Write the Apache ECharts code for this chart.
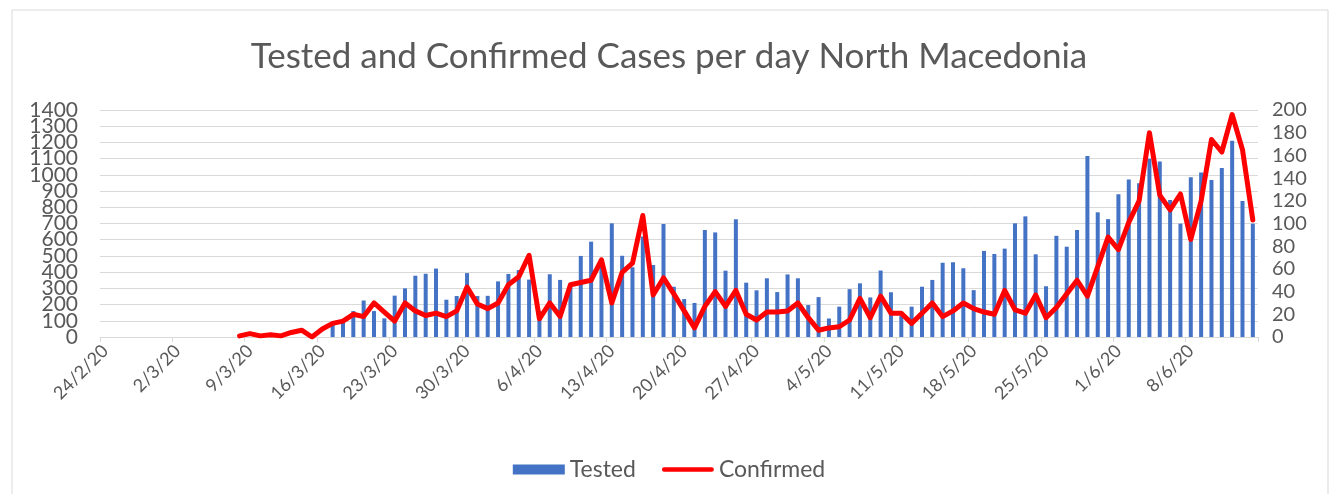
<!DOCTYPE html>
<html>
<head>
<meta charset="utf-8">
<script src="https://cdn.jsdelivr.net/npm/echarts@6/dist/echarts.min.js"></script>
<style>
html,body{margin:0;padding:0;background:#fff;}
#chart{width:1338px;height:494px;}
</style>
</head>
<body>
<div id="chart"></div>
<script>
var categories = [
'24/2/20','25/2/20','26/2/20','27/2/20','28/2/20','29/2/20',
'1/3/20','2/3/20','3/3/20','4/3/20','5/3/20','6/3/20','7/3/20','8/3/20','9/3/20','10/3/20',
'11/3/20','12/3/20','13/3/20','14/3/20','15/3/20','16/3/20','17/3/20','18/3/20','19/3/20','20/3/20',
'21/3/20','22/3/20','23/3/20','24/3/20','25/3/20','26/3/20','27/3/20','28/3/20','29/3/20','30/3/20','31/3/20',
'1/4/20','2/4/20','3/4/20','4/4/20','5/4/20','6/4/20','7/4/20','8/4/20','9/4/20','10/4/20',
'11/4/20','12/4/20','13/4/20','14/4/20','15/4/20','16/4/20','17/4/20','18/4/20','19/4/20','20/4/20',
'21/4/20','22/4/20','23/4/20','24/4/20','25/4/20','26/4/20','27/4/20','28/4/20','29/4/20','30/4/20',
'1/5/20','2/5/20','3/5/20','4/5/20','5/5/20','6/5/20','7/5/20','8/5/20','9/5/20','10/5/20',
'11/5/20','12/5/20','13/5/20','14/5/20','15/5/20','16/5/20','17/5/20','18/5/20','19/5/20','20/5/20',
'21/5/20','22/5/20','23/5/20','24/5/20','25/5/20','26/5/20','27/5/20','28/5/20','29/5/20','30/5/20','31/5/20',
'1/6/20','2/6/20','3/6/20','4/6/20','5/6/20','6/6/20','7/6/20','8/6/20','9/6/20','10/6/20',
'11/6/20','12/6/20','13/6/20','14/6/20'
];

var tested = [
null,null,null,null,null,null,null,null,null,null,
null,null,null,null,null,null,null,null,null,null,
null,null,
90,100,160,225,160,115,255,300,378,390,422,
230,253,394,253,254,343,389,413,354,160,
387,352,320,500,588,480,701,501,430,620,
444,697,310,234,210,660,645,409,726,335,
288,362,277,386,362,197,246,114,187,295,
331,244,410,276,130,187,310,352,458,461,
424,289,531,512,545,701,744,510,313,624,
557,660,1117,769,727,881,971,948,1100,1082,
845,699,986,1015,969,1042,1210,839,699
];

var confirmed = [
null,null,null,null,null,null,null,null,null,null,
null,null,null,
1,3,1,2,1,4,6,0,7,12,
14,20,18,30,22,14,30,23,19,21,
18,23,44,29,25,30,46,53,72,16,
30,18,46,48,50,68,30,57,65,107,
37,52,38,23,8,27,40,27,41,20,
15,22,22,23,30,17,6,8,9,15,
34,17,36,21,21,12,21,30,18,23,
30,25,22,20,41,24,21,37,17,26,
38,50,36,62,88,77,101,120,180,125,
112,126,86,120,174,163,196,165,103
];

var leftTicks = {min: 0, max: 1400, interval: 100};
var rightTicks = {min: 0, max: 200, interval: 20};
// left-axis labels drawn on a second overlaid axis (avoids auto-hiding of crowded labels)
var leftOverlayValues = [100, 1300];

var FONT = 'Lato';
var GREY = '#595959';
var LINE_ICON = 'path://M0,0 L0.01,0 L0.01,0.01 Z M1,2.6 L51,2.6 A2.4,2.4 0 0 1 51,7.4 L1,7.4 A2.4,2.4 0 0 1 1,2.6 Z M0,10 L0.01,10 L0.01,9.99 Z';

var leftLabelStyle = {fontFamily: FONT, fontSize: 21, color: GREY, margin: 22,
  showMinLabel: true, showMaxLabel: true, hideOverlap: false};

var chart = echarts.init(document.getElementById('chart'));
chart.setOption({
  backgroundColor: '#ffffff',
  animation: false,
  title: {
    text: 'Tested and Confirmed Cases per day North Macedonia',
    left: 'center',
    top: 34,
    textStyle: {fontFamily: FONT, fontSize: 35, fontWeight: 'normal', color: GREY}
  },
  graphic: [{
    type: 'rect',
    shape: {x: 12, y: 10, width: 1316, height: 500},
    style: {fill: 'none', stroke: '#d9d9d9', lineWidth: 1},
    silent: true, z: -1
  }],
  legend: {
    bottom: 8,
    left: 'center',
    itemGap: 26,
    itemWidth: 52,
    itemHeight: 10,
    textStyle: {fontFamily: FONT, fontSize: 23, color: GREY},
    data: [
      {name: 'Tested', icon: 'rect'},
      {name: 'Confirmed', icon: LINE_ICON}
    ]
  },
  grid: {left: 100, right: 80, top: 110, bottom: 157, containLabel: false},
  xAxis: {
    type: 'category',
    data: categories,
    boundaryGap: true,
    axisLine: {lineStyle: {color: '#d9d9d9', width: 1}},
    axisTick: {show: true, interval: 6, length: 5, lineStyle: {color: '#d9d9d9'}},
    axisLabel: {interval: 6, rotate: 45, fontFamily: FONT, fontSize: 18, color: GREY, margin: 11}
  },
  yAxis: [{
    type: 'value',
    min: leftTicks.min, max: leftTicks.max, interval: leftTicks.interval,
    axisLine: {show: false}, axisTick: {show: false},
    splitLine: {lineStyle: {color: '#d9d9d9', width: 1}},
    axisLabel: Object.assign({}, leftLabelStyle, {
      formatter: function (v) { return leftOverlayValues.indexOf(v) >= 0 ? '' : String(v); }
    })
  }, {
    type: 'value',
    min: rightTicks.min, max: rightTicks.max, interval: rightTicks.interval,
    axisLine: {show: false}, axisTick: {show: false},
    splitLine: {show: false},
    axisLabel: {fontFamily: FONT, fontSize: 20, color: GREY, margin: 14,
      showMinLabel: true, showMaxLabel: true,
      formatter: function (v) { return String(v); }}
  }, {
    type: 'value',
    position: 'left',
    min: leftTicks.min, max: leftTicks.max, interval: leftTicks.interval,
    axisLine: {show: false}, axisTick: {show: false},
    splitLine: {show: false},
    axisLabel: Object.assign({}, leftLabelStyle, {
      formatter: function (v) { return leftOverlayValues.indexOf(v) >= 0 ? String(v) : ''; }
    })
  }],
  series: [{
    name: 'Tested',
    type: 'bar',
    yAxisIndex: 0,
    data: tested,
    barWidth: 4,
    itemStyle: {color: '#4472C4'}
  }, {
    name: 'Confirmed',
    type: 'line',
    yAxisIndex: 1,
    data: confirmed,
    symbol: 'none',
    connectNulls: false,
    lineStyle: {color: '#FF0000', width: 5, join: 'round', cap: 'round'},
    itemStyle: {color: '#FF0000'}
  }]
});
</script>
</body>
</html>
